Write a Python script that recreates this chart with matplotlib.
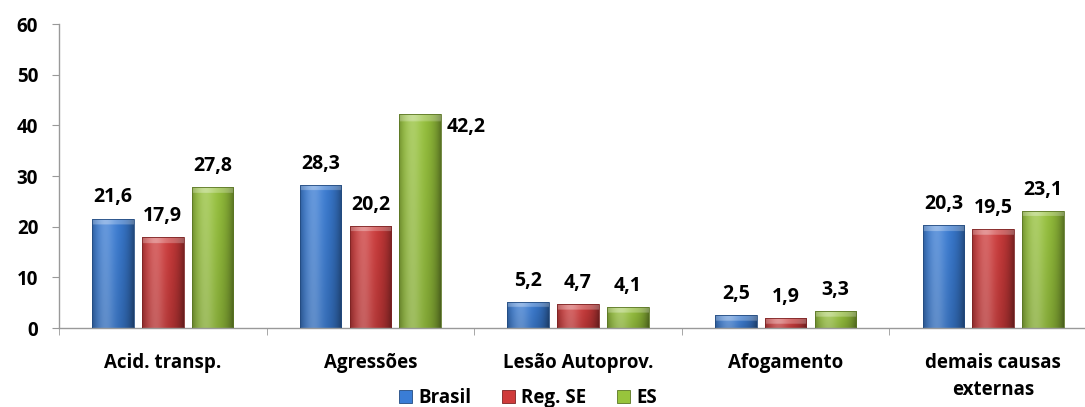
import numpy as np
import matplotlib.pyplot as plt
from matplotlib.colors import to_rgb
from matplotlib.patches import Patch

# Taxas por causa externa (por 100 mil hab.)
categorias = ['Acid. transp.', 'Agressões', 'Lesão Autoprov.', 'Afogamento',
              'demais causas\nexternas']
brasil = [21.6, 28.3, 5.2, 2.5, 20.3]
reg_se = [17.9, 20.2, 4.7, 1.9, 19.5]
es = [27.8, 42.2, 4.1, 3.3, 23.1]
series = ['Brasil', 'Reg. SE', 'ES']
cores = ['#3a7dd6', '#d03b3b', '#98c43c']

plt.rcParams['font.family'] = ['Open Sans', 'DejaVu Sans']
plt.rcParams['font.weight'] = 'bold'


def sombreado(ax, rect, cor):
    # preenche a barra com um degradê para dar efeito de relevo
    x0, w, h = rect.get_x(), rect.get_width(), rect.get_height()
    base = np.array(to_rgb(cor))
    nx, ny = 60, 120
    u = np.linspace(0, 1, nx)[None, :]
    y = np.linspace(0, h, ny)[:, None]
    claro = 0.22 * np.exp(-((u - 0.32) / 0.22) ** 2)
    escuro = 0.40 * u ** 5 + 0.25 * (1 - u) ** 8 + 0.12 * (1 - y / max(h, 1e-6))
    bisel = 1.1  # altura do bisel no topo, em unidades do eixo y
    topo = (h - y) < bisel
    claro = claro + np.where(topo, 0.25, 0.0)
    img = base[None, None, :] * (1 - escuro[..., None])
    img = img + (1 - img) * claro[..., None]
    img = np.clip(img, 0, 1)
    im = ax.imshow(img, extent=[x0, x0 + w, 0, h], origin='lower',
                   aspect='auto', interpolation='bilinear', zorder=2)
    im.set_clip_path(rect)


fig = plt.figure(figsize=(10.85, 4.07), dpi=100)
ax = fig.add_axes([59 / 1085, 1 - 328 / 407, 1038 / 1085, 304 / 407])

x = np.arange(len(categorias))
largura = 0.2
passo = 0.24
for i, (nome, vals, cor) in enumerate(zip(series, [brasil, reg_se, es], cores)):
    escura = np.array(to_rgb(cor)) * 0.6
    barras = ax.bar(x + (i - 1) * passo, vals, largura, color=cor,
                    edgecolor=escura, linewidth=0.6, zorder=3, label=nome)
    for b, v in zip(barras, vals):
        b.set_facecolor('none')
        sombreado(ax, b, cor)
        txt = f'{v:.1f}'.replace('.', ',')
        if v > 40:
            ax.annotate(txt, (b.get_x() + b.get_width(), v), xytext=(4, -9),
                        textcoords='offset points', ha='left', va='center',
                        fontsize=14, fontweight='bold')
        else:
            ax.annotate(txt, (b.get_x() + b.get_width() / 2, v), xytext=(0, 8),
                        textcoords='offset points', ha='center', va='bottom',
                        fontsize=14, fontweight='bold')

ax.set_xlim(-0.5, len(categorias) - 0.5)
ax.set_ylim(0, 60)
ax.set_yticks(range(0, 61, 10))
ax.tick_params(axis='y', labelsize=13.5, length=5, pad=10, color='#999999')
ax.set_xticks(x)
ax.set_xticklabels(categorias, fontsize=13.5, fontweight='bold',
                   linespacing=1.45)
ax.tick_params(axis='x', which='major', length=0, pad=18)
ax.set_xticks(np.arange(-0.5, len(categorias), 1.0), minor=True)
ax.tick_params(axis='x', which='minor', length=5, color='#999999')
for lado in ['top', 'right']:
    ax.spines[lado].set_visible(False)
for lado in ['left', 'bottom']:
    ax.spines[lado].set_color('#999999')
    ax.spines[lado].set_linewidth(1)

alcas = [Patch(facecolor=c, edgecolor=np.array(to_rgb(c)) * 0.6, linewidth=0.6)
         for c in cores]
fig.legend(alcas, series, loc='center', bbox_to_anchor=(528 / 1085, 1 - 398 / 407),
           ncol=3, frameon=False, handlelength=0.7, handleheight=0.7,
           handletextpad=0.35, columnspacing=1.6,
           prop={'weight': 'bold', 'size': 13.5})

fig.savefig('out.png', dpi=100)
